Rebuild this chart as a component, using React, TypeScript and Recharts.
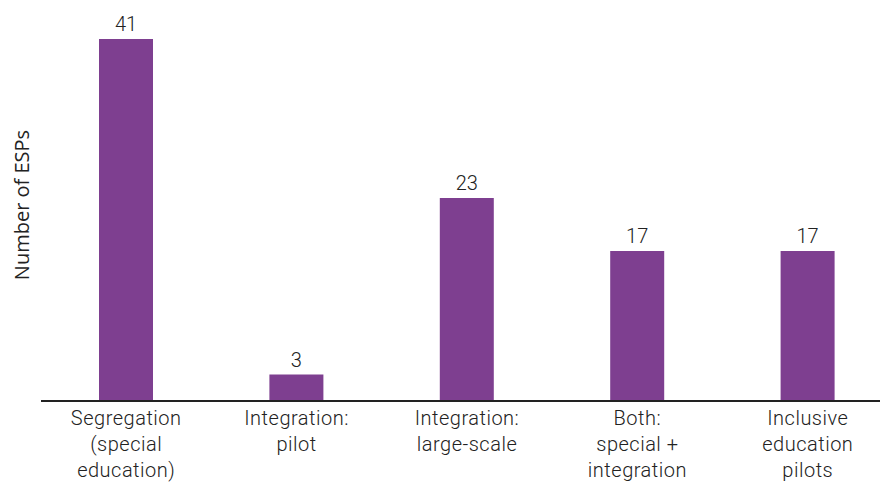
import { BarChart, Bar, XAxis, YAxis, LabelList } from "recharts";

const categories = [
  "Segregation\n(special\neducation)",
  "Integration:\npilot",
  "Integration:\nlarge-scale",
  "Both:\nspecial +\nintegration",
  "Inclusive\neducation\npilots",
];
const espCounts = [41, 3, 23, 17, 17];

const data = categories.map((name, i) => ({ name, value: espCounts[i] }));

const FONT = "Roboto, 'DejaVu Sans', sans-serif";
const TEXT = "#222222";

function MultiLineTick(props: any) {
  const { x, y, payload } = props;
  const lines = String(payload.value).split("\n");
  return (
    <text
      x={x}
      y={y}
      textAnchor="middle"
      fill={TEXT}
      fontFamily={FONT}
      fontWeight={300}
      fontSize={20}
      letterSpacing={0.5}
    >
      {lines.map((line, i) => (
        <tspan key={i} x={x} dy={i === 0 ? 16 : 26}>
          {line}
        </tspan>
      ))}
    </text>
  );
}

function YLabel(props: any) {
  const vb = props.viewBox;
  const cx = vb.x + vb.width / 2 + 1;
  const cy = vb.y + vb.height / 2 - 15;
  return (
    <text
      x={cx}
      y={cy}
      transform={`rotate(-90 ${cx} ${cy})`}
      textAnchor="middle"
      dominantBaseline="central"
      fill={TEXT}
      fontFamily="'Open Sans', sans-serif"
      fontSize={20}
    >
      Number of ESPs
    </text>
  );
}

export default function App() {
  return (
    <div
      style={{
        position: "fixed",
        top: 0,
        left: 0,
        width: 880,
        height: 483,
        overflow: "hidden",
        background: "#fff",
      }}
    >
      <BarChart
        width={893}
        height={483}
        data={data}
        margin={{ top: 39, right: 0, bottom: 0, left: 0 }}
      >
        <YAxis
          width={41}
          domain={[0, 41]}
          tick={false}
          axisLine={false}
          tickLine={false}
          label={<YLabel />}
        />
        <XAxis
          dataKey="name"
          interval={0}
          height={82}
          tickLine={false}
          axisLine={{ stroke: "#222", strokeWidth: 2 }}
          tick={<MultiLineTick />}
        />
        <Bar dataKey="value" fill="#7e3f90" barSize={54} isAnimationActive={false}>
          <LabelList
            dataKey="value"
            position="top"
            offset={8}
            fill={TEXT}
            fontFamily={FONT}
            fontWeight={300}
            fontSize={20}
          />
        </Bar>
      </BarChart>
    </div>
  );
}
